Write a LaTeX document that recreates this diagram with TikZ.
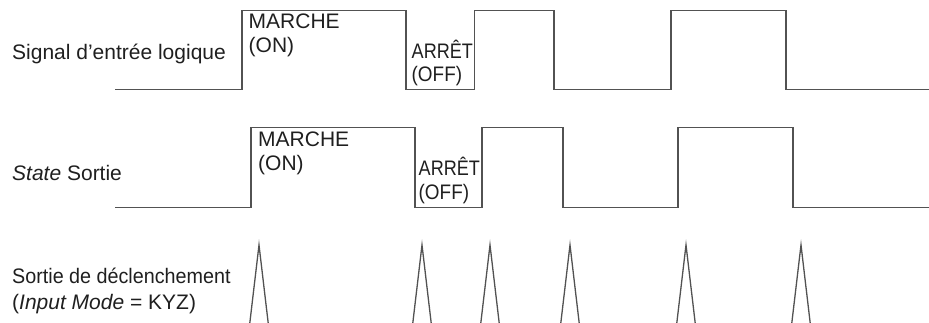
\documentclass[tikz,border=0pt]{standalone}
\usepackage{fontspec}
\setmainfont{Liberation Sans}
\begin{document}
\begin{tikzpicture}[x=1pt,y=-1pt,
  wave/.style={draw=black!68,line width=1.3pt,line join=miter},
  lbl/.style={anchor=base west,inner sep=0pt,text=black!88,font=\fontsize{21}{24}\selectfont}]
\useasboundingbox (0,0) rectangle (929,322);
\clip (0,0) rectangle (929,322);
% row labels
\node[lbl] (l1) at (12,59) {Signal d’entrée logique};
\node[lbl] (l2) at (12,180) {\textit{State} Sortie};
\node[lbl] (l3a) at (12,283.5) {\scalebox{0.94}[1]{Sortie de déclenchement}};
\node[lbl] (l3b) at (12,309) {(\textit{Input Mode} = KYZ)};
% row 1 waveform
\draw[wave] (115,89.5) -- (242,89.5) -- (242,10.5) -- (406,10.5) -- (406,89.5) -- (474.5,89.5) -- (474.5,10.5)
  -- (554,10.5) -- (554,89.5) -- (671,89.5) -- (671,10.5) -- (786,10.5) -- (786,89.5) -- (929,89.5);
\node[lbl] (on1a) at (248.5,28.5) {MARCHE};
\node[lbl] (on1b) at (248.5,52) {(ON)};
\node[lbl] (off1a) at (411.5,58) {\scalebox{0.86}[1]{ARRÊT}};
\node[lbl] (off1b) at (411.5,81) {\scalebox{0.9}[1]{(OFF)}};
% row 2 waveform
\draw[wave] (115,207.5) -- (251,207.5) -- (251,127.5) -- (415,127.5) -- (415,207.5) -- (482,207.5) -- (482,127.5)
  -- (563,127.5) -- (563,207.5) -- (678,207.5) -- (678,127.5) -- (793,127.5) -- (793,207.5) -- (929,207.5);
\node[lbl] (on2a) at (258,146) {MARCHE};
\node[lbl] (on2b) at (258,170) {(ON)};
\node[lbl] (off2a) at (418.5,175) {\scalebox{0.86}[1]{ARRÊT}};
\node[lbl] (off2b) at (418.5,199.5) {\scalebox{0.9}[1]{(OFF)}};
% row 3 trigger pulses
\foreach \px in {259,422,490,570,686,801}{
  \draw[wave] (\px-9.2,323) -- (\px,245) -- (\px+9.2,323);
}
\end{tikzpicture}
\end{document}
